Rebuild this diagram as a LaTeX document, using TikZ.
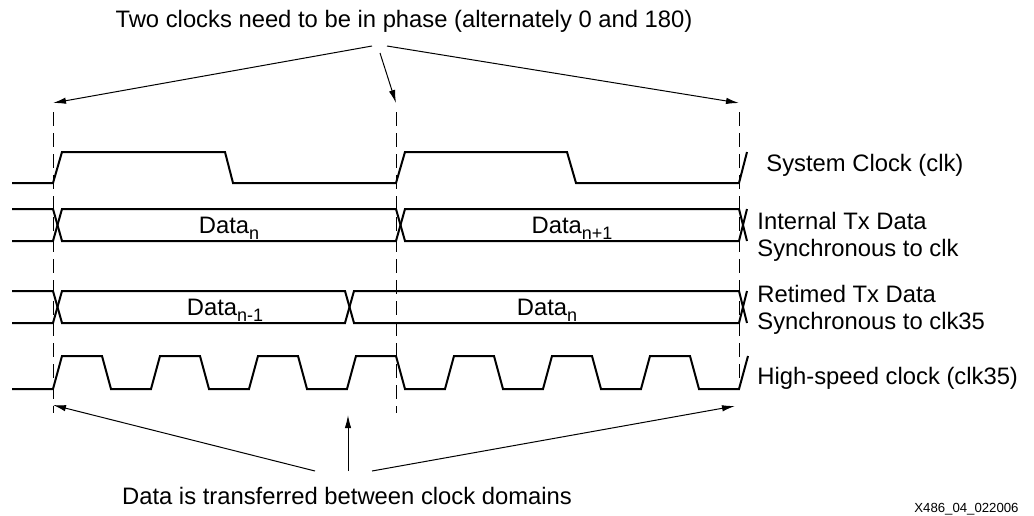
\documentclass[tikz,border=0pt]{standalone}
\usepackage{fontspec}
\setmainfont{Liberation Sans}
\usetikzlibrary{arrows.meta}
\newcommand{\dsub}[1]{\raisebox{-3pt}{\fontsize{9}{9}\selectfont #1}}

\begin{document}
\begin{tikzpicture}[x=0.5pt,y=-0.5pt,
	font=\fontsize{11.9}{13.5}\selectfont,
	sig/.style={line width=1pt,line join=miter},
	guide/.style={line width=0.5pt,dash pattern=on 7pt off 3.5pt},
	pointer/.style={line width=0.5pt,-{Latex[length=6.5pt,width=3.2pt]}},
	lbl/.style={anchor=west,inner sep=0pt,align=left},
	dat/.style={anchor=base,inner sep=0pt}]
	\useasboundingbox (0,0) rectangle (1034,515);
	% dashed guides on the clk edges
	\foreach \n/\x/\e in {d1/53/413,d2/396/413,d3/739/385}{
		\coordinate (\n) at (\x,103);
		\draw[guide] (\x,112) -- (\x,\e);
	}
	\node[inner sep=0pt] (phase) at (404,21) {Two clocks need to be in phase (alternately 0 and 180)};
	\coordinate (p1) at (372,46);
	\coordinate (p2) at (380,53);
	\coordinate (p3) at (387,46);
	\draw[pointer] (p1) -- (d1);
	\draw[pointer] (p2) -- (d2);
	\draw[pointer] (p3) -- (d3);
	% signals
	\draw[sig] (12,183) -- (53,183) -- (62,152) -- (225,152) -- (233,183) -- (396,183)
		-- (405,152) -- (567,152) -- (576,183) -- (739,183) -- (747,152);
	\draw[sig] (12,209) -- (53,209) -- (62,241) -- (396,241) -- (405,209) -- (739,209) -- (747,241);
	\draw[sig] (12,241) -- (53,241) -- (62,209) -- (396,209) -- (405,241) -- (739,241) -- (747,209);
	\draw[sig] (12,291) -- (53,291) -- (62,323) -- (345,323) -- (354,291) -- (739,291) -- (747,323);
	\draw[sig] (12,323) -- (53,323) -- (62,291) -- (345,291) -- (354,323) -- (739,323) -- (747,291);
	\draw[sig] (12,389) -- (53,389)
		\foreach \k in {1,...,7}{ -- ++(9,-33) -- ++(40,0) -- ++(9,33) -- ++(40,0)}
		-- ++(9,-33);
	% bus values
	\node[dat] (dn) at (229,233) {Data\dsub{n}};
	\node[dat] (dn1) at (572,233) {Data\dsub{n+1}};
	\node[dat] (dm1) at (225,315) {Data\dsub{n-1}};
	\node[dat] (dn2) at (547,315) {Data\dsub{n}};
	% signal names
	\node[lbl] (clk) at (766,165) {System Clock (clk)};
	\node[lbl] (txd) at (757,237) {Internal Tx Data\\Synchronous to clk};
	\node[lbl] (rtd) at (757,310) {Retimed Tx Data\\Synchronous to clk35};
	\node[lbl] (hsc) at (757,378) {High-speed clock (clk35)};
	% transfer points
	\node[inner sep=0pt] (xfer) at (347,496) {Data is transferred between clock domains};
	\coordinate (q1) at (315,471);
	\coordinate (q2) at (348,471);
	\coordinate (q3) at (372,471);
	\coordinate (e1) at (53,405);
	\coordinate (e2) at (348,415);
	\coordinate (e3) at (735,406);
	\draw[pointer] (q1) -- (e1);
	\draw[pointer] (q2) -- (e2);
	\draw[pointer] (q3) -- (e3);
	\node[anchor=base east,inner sep=0pt,font=\fontsize{6.6}{8}\selectfont] (fig) at (1019,512) {X486\_04\_022006};
\end{tikzpicture}
\end{document}
